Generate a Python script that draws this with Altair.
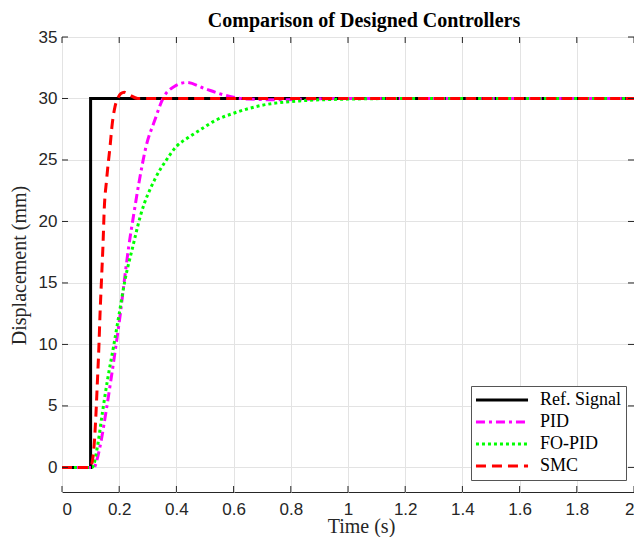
import altair as alt
import pandas as pd

# ---------------- data ----------------
chart_title = "Comparison of Designed Controllers"
series_names = ["Ref. Signal", "PID", "FO-PID", "SMC"]
series_colors = ["#000000", "#FF00FF", "#00FF00", "#FF0000"]
series_dashes = [[1, 0], [9, 4, 3, 4], [3, 3], [10, 6]]

ref_t = [0.0, 0.1, 0.1, 2.0]
ref_y = [0.0, 0.0, 30.0, 30.0]

pid_t = [0.0, 0.1, 0.112, 0.122, 0.133, 0.153, 0.171, 0.188, 0.204, 0.218, 0.233,
         0.251, 0.271, 0.294, 0.324, 0.353, 0.394, 0.435, 0.5, 0.55, 0.6, 0.65,
         0.75, 0.9, 1.0, 2.0]
pid_y = [0.0, 0.0, 0.0, 0.6, 1.7, 4.4, 7.1, 9.8, 12.5, 15.2, 17.9,
         20.6, 23.4, 26.1, 28.2, 30.0, 31.0, 31.3, 30.8, 30.4, 30.1, 29.95,
         29.9, 29.97, 30.0, 30.0]

fopid_t = [0.0, 0.1, 0.106, 0.124, 0.141, 0.159, 0.18, 0.2, 0.22, 0.247, 0.276,
           0.324, 0.365, 0.4, 0.44, 0.48, 0.535, 0.6, 0.7, 0.83, 1.0, 1.2, 2.0]
fopid_y = [0.0, 0.0, 0.0, 1.7, 4.4, 7.1, 9.8, 12.5, 15.2, 17.9, 20.6,
           23.4, 25.0, 26.1, 26.8, 27.4, 28.2, 28.8, 29.45, 29.8, 29.95, 30.0, 30.0]

smc_t = [0.0, 0.1, 0.106, 0.112, 0.118, 0.124, 0.129, 0.133, 0.138, 0.144, 0.147,
         0.156, 0.168, 0.176, 0.185, 0.195, 0.206, 0.218, 0.235, 0.265, 0.35, 2.0]
smc_y = [0.0, 0.0, 0.5, 1.7, 4.0, 7.1, 9.8, 12.5, 15.2, 18.5, 20.6,
         23.4, 26.1, 28.0, 29.3, 30.0, 30.4, 30.5, 30.3, 30.0, 30.0, 30.0]

x_ticks = [0, 0.2, 0.4, 0.6, 0.8, 1, 1.2, 1.4, 1.6, 1.8, 2]
y_ticks = [0, 5, 10, 15, 20, 25, 30, 35]

# ---------------- chart ----------------
W, H = 572, 455
TICK = 6
AXIS_COLOR = "#262626"

def frame(name, t, y):
    return pd.DataFrame({"t": t, "y": y, "series": name})

xscale = alt.Scale(domain=[0, 2], nice=False, zero=False)
yscale = alt.Scale(domain=[-2, 35], nice=False, zero=False)

xaxis = alt.Axis(values=x_ticks, format="~g", title="Time (s)", grid=True,
                 ticks=False, domain=False, labelPadding=9,
                 titleX=299, titleY=40, titleBaseline="alphabetic",
                 titleAnchor="middle")
yaxis = alt.Axis(values=y_ticks, title="Displacement (mm)", grid=True,
                 ticks=False, domain=False, labelPadding=5,
                 titleX=-37, titleY=228, titleAngle=270,
                 titleBaseline="alphabetic", titleAnchor="middle")

color_enc = alt.Color("series:N", scale=alt.Scale(domain=series_names, range=series_colors),
                      legend=alt.Legend(title=None))
dash_enc = alt.StrokeDash("series:N", scale=alt.Scale(domain=series_names, range=series_dashes),
                          legend=alt.Legend(title=None))

def line_layer(df, interp):
    return alt.Chart(df).mark_line(strokeWidth=3, interpolate=interp).encode(
        x=alt.X("t:Q", scale=xscale, axis=xaxis),
        y=alt.Y("y:Q", scale=yscale, axis=yaxis),
        color=color_enc,
        strokeDash=dash_enc,
    )

layers = [
    line_layer(frame(series_names[0], ref_t, ref_y), "linear"),
    line_layer(frame(series_names[1], pid_t, pid_y), "monotone"),
    line_layer(frame(series_names[2], fopid_t, fopid_y), "monotone"),
    line_layer(frame(series_names[3], smc_t, smc_y), "monotone"),
]

xt = pd.DataFrame({"t": x_ticks})
yt = pd.DataFrame({"y": y_ticks})
tick_style = dict(color=AXIS_COLOR, strokeWidth=1)
xe = alt.X("t:Q", scale=xscale, axis=xaxis)
ye = alt.Y("y:Q", scale=yscale, axis=yaxis)
layers += [
    alt.Chart(xt).mark_rule(**tick_style).encode(x=xe, y=alt.value(H), y2=alt.value(H - TICK)),
    alt.Chart(xt).mark_rule(**tick_style).encode(x=xe, y=alt.value(0), y2=alt.value(TICK)),
    alt.Chart(yt).mark_rule(**tick_style).encode(y=ye, x=alt.value(0), x2=alt.value(TICK)),
    alt.Chart(yt).mark_rule(**tick_style).encode(y=ye, x=alt.value(W), x2=alt.value(W - TICK)),
]

# title drawn as a text mark above the plot area
title_layer = alt.Chart(pd.DataFrame({"label": [chart_title]})).mark_text(
    font="Liberation Serif", fontSize=20, fontWeight="bold", color="#000000",
    align="center", baseline="alphabetic",
).encode(text="label:N", x=alt.value(302), y=alt.value(-10))
layers.append(title_layer)

chart = alt.layer(*layers).properties(
    width=W,
    height=H,
    autosize=alt.AutoSizeParams(type="none"),
    padding={"left": 54, "top": 29, "right": 0, "bottom": 45},
).configure_view(
    stroke=AXIS_COLOR, strokeWidth=1
).configure_axis(
    gridColor="#e3e3e3", gridWidth=1,
    labelFont="Liberation Sans", labelFontSize=17, labelColor=AXIS_COLOR,
    titleFont="Liberation Serif", titleFontSize=20, titleFontWeight="normal",
    titleColor=AXIS_COLOR,
).configure_legend(
    orient="none", legendX=409, legendY=349,
    fillColor="#ffffff", strokeColor="#555555", strokeWidth=1, padding=5,
    symbolType="M-3.47,0H3.47", symbolSize=225, symbolStrokeWidth=3,
    symbolOffset=17,
    labelFont="Liberation Serif", labelFontSize=18, labelColor="#000000",
    labelOffset=29, rowPadding=4, labelLimit=200,
)

chart.save("out.html", embed_options={"renderer": "svg", "actions": False})
